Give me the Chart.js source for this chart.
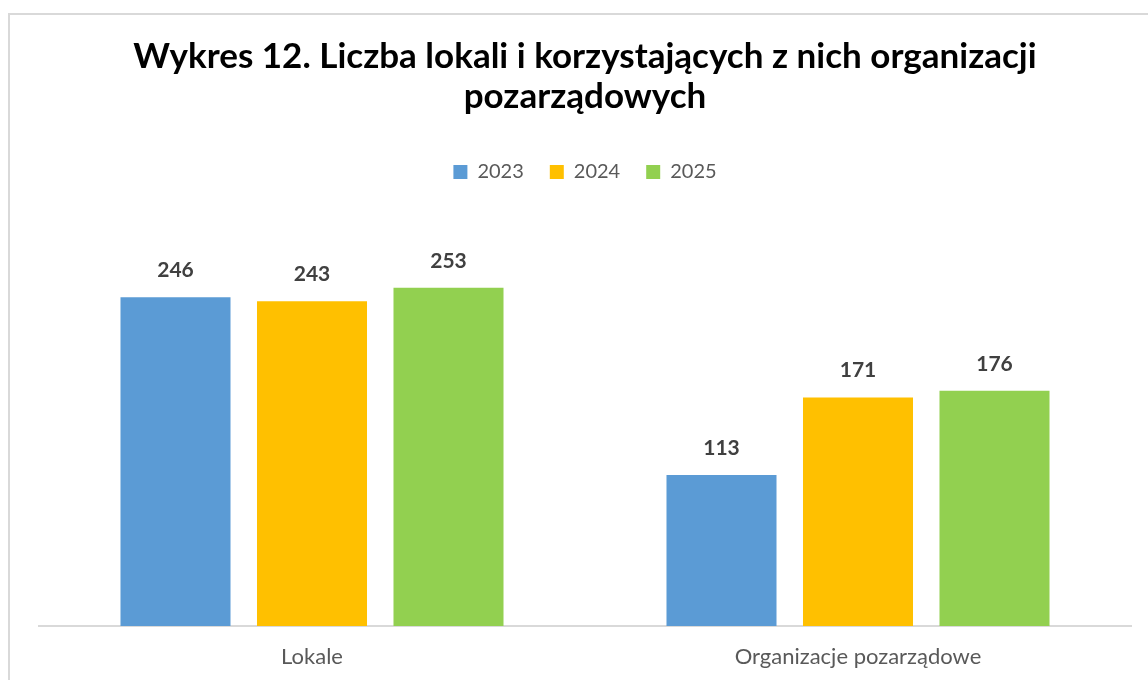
<!DOCTYPE html>
<html>
<head>
<meta charset="utf-8">
<script src="https://cdn.jsdelivr.net/npm/chart.js@4/dist/chart.umd.min.js"></script>
<style>
  html, body { margin: 0; padding: 0; background: #fff; }
  #wrap { position: relative; width: 1148px; height: 680px; overflow: hidden; }
  #frame { position: absolute; left: 8px; top: 13px; width: 1200px; height: 700px;
           border-left: 2px solid #d9d9d9; border-top: 2px solid #d9d9d9; box-sizing: border-box; }
  canvas { position: absolute; left: 0; top: 0; }
</style>
</head>
<body>
<div id="wrap">
  <div id="frame"></div>
  <canvas id="c" width="1148" height="680"></canvas>
</div>
<script>
const categories = ["Lokale", "Organizacje pozarządowe"];
const seriesNames = ["2023", "2024", "2025"];
const values2023 = [246, 113];
const values2024 = [243, 171];
const values2025 = [253, 176];
const seriesColors = ["#5B9BD5", "#FFC000", "#92D050"];
const titleLines = ["Wykres 12. Liczba lokali i korzystających z nich organizacji", "pozarządowych"];

const FONT = "Lato, 'Liberation Sans', sans-serif";

const valueLabels = {
  id: "valueLabels",
  beforeInit(chart) {
    const lg = chart.legend;
    if (lg) {
      const orig = lg.fit;
      lg.fit = function () { orig.call(this); this.height = 89; };
    }
  },
  afterDatasetsDraw(chart) {
    const ctx = chart.ctx;
    ctx.save();
    ctx.font = "bold 21px " + FONT;
    ctx.fillStyle = "#404040";
    ctx.textAlign = "center";
    ctx.textBaseline = "middle";
    chart.data.datasets.forEach((ds, i) => {
      const meta = chart.getDatasetMeta(i);
      meta.data.forEach((bar, j) => {
        ctx.fillText(String(ds.data[j]), bar.x, bar.y - 27);
      });
    });
    ctx.restore();
  }
};

new Chart(document.getElementById("c"), {
  type: "bar",
  data: {
    labels: categories,
    datasets: [
      { label: seriesNames[0], data: values2023, backgroundColor: seriesColors[0] },
      { label: seriesNames[1], data: values2024, backgroundColor: seriesColors[1] },
      { label: seriesNames[2], data: values2025, backgroundColor: seriesColors[2] }
    ]
  },
  options: {
    responsive: false,
    animation: false,
    layout: { padding: { top: 17, left: 39, right: 17, bottom: 0 } },
    datasets: { bar: { categoryPercentage: 0.75, barPercentage: 0.806 } },
    scales: {
      x: {
        grid: { display: false, drawTicks: false },
        border: { display: true, color: "#d9d9d9", width: 2 },
        ticks: { color: "#595959", font: { family: FONT, size: 22 }, padding: 18, maxRotation: 0 },
        afterFit(scale) { scale.height = 54; }
      },
      y: { display: false, min: 0, max: 300 }
    },
    plugins: {
      title: {
        display: true,
        text: titleLines,
        color: "#000",
        font: { family: FONT, size: 35, weight: "bold", lineHeight: 40 / 35 },
        padding: { top: 20, bottom: 19 }
      },
      legend: {
        display: true,
        position: "top",
        labels: {
          color: "#595959",
          font: { family: FONT, size: 20 },
          boxWidth: 14, boxHeight: 14,
          padding: 26
        }
      },
      tooltip: { enabled: false }
    }
  },
  plugins: [valueLabels]
});
</script>
</body>
</html>
